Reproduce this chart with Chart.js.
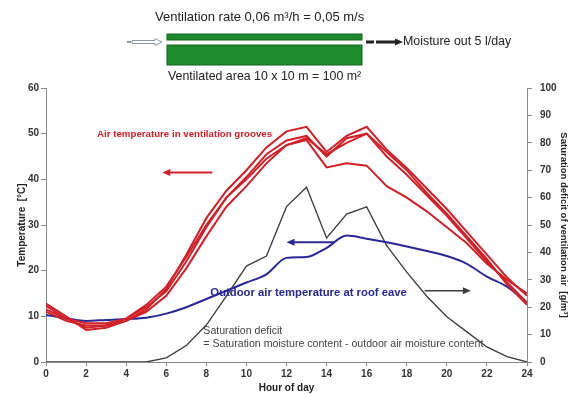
<!DOCTYPE html>
<html>
<head>
<meta charset="utf-8">
<script src="https://cdn.jsdelivr.net/npm/chart.js@4.4.1/dist/chart.umd.min.js"></script>
<style>
  html, body { margin: 0; padding: 0; background: #fff; }
  #wrap { position: relative; width: 571px; height: 394px; }
</style>
</head>
<body>
<div id="wrap"><canvas id="chart" width="571" height="394"></canvas></div>
<script>
// hours of the day
const hours = [0, 1, 2, 3, 4, 5, 6, 7, 8, 9, 10, 11, 12, 13, 14, 15, 16, 17, 18, 19, 20, 21, 22, 23, 24];

// air temperature in ventilation grooves (4 measured grooves), °C
const groove1 = [12.8, 10, 7, 7.5, 9, 11.5, 16, 23.5, 31.5, 37.5, 42, 47, 50.5, 51.5, 46, 49.5, 51.5, 46.5, 42.5, 38, 33.5, 28.5, 23.5, 18.5, 14.5];
const groove2 = [12.3, 9.5, 7.5, 8, 9.5, 12, 15.5, 22, 29.5, 36, 40.5, 45.5, 48.5, 49.5, 45, 49, 50, 46, 42, 37, 32.5, 27.5, 22.5, 17, 12.5];
const groove3 = [11.5, 9.5, 8.5, 8.5, 9.5, 12.5, 16.5, 23, 30, 36, 40, 44.5, 47.5, 49, 45.5, 48, 50, 45, 41, 36.5, 32, 27, 22, 17.5, 13];
const groove4 = [11, 9, 8, 8, 9, 11, 14.5, 20.5, 27.5, 34, 38.5, 43.5, 47.5, 48.6, 42.6, 43.5, 43, 38.5, 36, 33, 29.5, 26, 21.5, 18, 15];

// outdoor air temperature at roof eave, °C
const outdoor = [10.3, 9.6, 9.0, 9.2, 9.4, 9.7, 10.6, 12, 13.8, 15.6, 17.4, 19.2, 22.8, 23, 25, 27.7, 27, 26.2, 25.3, 24.3, 23.2, 21.5, 18.7, 16.5, 13];

// saturation deficit, g/m³ (right axis)
const deficit = [0, 0, 0, 0, 0, 0, 1.5, 6, 13.5, 24, 35, 38.7, 56.7, 63.8, 45.3, 54, 56.6, 42.5, 32.8, 24, 16.5, 11, 5.5, 2, 0];

const xTicks = [0, 2, 4, 6, 8, 10, 12, 14, 16, 18, 20, 22, 24];

const RED = "rgb(210,32,40)";
const BLUE = "rgb(40,40,150)";
const GREY = "rgb(60,60,60)";
const FONT = "'Liberation Sans', Arial, sans-serif";

function toPts(ys) {
  return hours.map((h, i) => ({ x: h, y: ys[i] }));
}

function redSet(ys) {
  return { data: toPts(ys), borderColor: RED, borderWidth: 2, pointRadius: 0, tension: 0, yAxisID: "y" };
}

function arrow(ctx, x1, y, x2, color, w) {
  const dir = x2 > x1 ? 1 : -1;
  ctx.save();
  ctx.strokeStyle = color;
  ctx.fillStyle = color;
  ctx.lineWidth = w;
  ctx.beginPath();
  ctx.moveTo(x1, y);
  ctx.lineTo(x2 - dir * 6, y);
  ctx.stroke();
  ctx.beginPath();
  ctx.moveTo(x2, y);
  ctx.lineTo(x2 - dir * 8, y - 3.5);
  ctx.lineTo(x2 - dir * 8, y + 3.5);
  ctx.closePath();
  ctx.fill();
  ctx.restore();
}

// labels, arrows and the little ventilation sketch above the plot
const extras = {
  id: "extras",
  afterDraw(chart) {
    const ctx = chart.ctx;
    const x = chart.scales.x, y = chart.scales.y;

    ctx.save();
    ctx.textBaseline = "middle";
    ctx.textAlign = "left";

    ctx.font = "bold 9.7px " + FONT;
    ctx.fillStyle = RED;
    ctx.fillText("Air temperature in ventilation grooves", x.getPixelForValue(2.55), y.getPixelForValue(49.9));
    arrow(ctx, x.getPixelForValue(8.3), y.getPixelForValue(41.5), x.getPixelForValue(5.8), RED, 2);

    ctx.font = "bold 11.3px " + FONT;
    ctx.fillStyle = BLUE;
    ctx.fillText("Outdoor air temperature at roof eave", x.getPixelForValue(8.2), y.getPixelForValue(15.2));
    arrow(ctx, x.getPixelForValue(14.4), y.getPixelForValue(26.2), x.getPixelForValue(12.0), BLUE, 2);

    arrow(ctx, x.getPixelForValue(18.9), y.getPixelForValue(15.6), x.getPixelForValue(21.2), GREY, 1.5);

    ctx.font = "10.6px " + FONT;
    ctx.fillStyle = "#444";
    ctx.fillText("Saturation deficit", x.getPixelForValue(7.85), y.getPixelForValue(6.8));
    ctx.fillText("= Saturation moisture content - outdoor air moisture content", x.getPixelForValue(7.85), y.getPixelForValue(3.9));

    // top sketch
    ctx.font = "13px " + FONT;
    ctx.fillStyle = "#222";
    ctx.fillText("Ventilation rate 0,06 m\u00b3/h = 0,05 m/s", 155, 17);
    ctx.font = "12.4px " + FONT;
    ctx.fillText("Moisture out 5 l/day", 403, 42);
    ctx.fillText("Ventilated area 10 x 10 m = 100 m\u00b2", 168, 77);

    ctx.fillStyle = "#1f8a2e";
    ctx.strokeStyle = "#16611f";
    ctx.lineWidth = 1;
    ctx.fillRect(167, 34, 195, 6);
    ctx.strokeRect(167, 34, 195, 6);
    ctx.fillRect(167, 45, 195, 20);
    ctx.strokeRect(167, 45, 195, 20);

    // hollow inlet arrow
    ctx.strokeStyle = "#8a9aa8";
    ctx.fillStyle = "#fff";
    ctx.lineWidth = 1;
    ctx.beginPath();
    ctx.moveTo(132, 40.5);
    ctx.lineTo(155, 40.5);
    ctx.lineTo(155, 38.5);
    ctx.lineTo(162, 42);
    ctx.lineTo(155, 45.5);
    ctx.lineTo(155, 43.5);
    ctx.lineTo(132, 43.5);
    ctx.closePath();
    ctx.fill();
    ctx.stroke();
    ctx.fillStyle = "#8a9aa8";
    ctx.fillRect(127, 41, 4, 2);

    // outlet arrow
    ctx.fillStyle = "#222";
    ctx.fillRect(366, 40.5, 8, 3);
    arrow(ctx, 376, 42, 403, "#222", 3);
    ctx.restore();
  }
};

new Chart(document.getElementById("chart"), {
  type: "line",
  data: {
    datasets: [
      redSet(groove1),
      redSet(groove2),
      redSet(groove3),
      redSet(groove4),
      { data: toPts(outdoor), borderColor: BLUE, borderWidth: 2, pointRadius: 0, tension: 0.35, cubicInterpolationMode: "monotone", yAxisID: "y" },
      { data: toPts(deficit), borderColor: GREY, borderWidth: 1.3, pointRadius: 0, tension: 0, yAxisID: "y2" }
    ]
  },
  options: {
    responsive: false,
    animation: false,
    events: [],
    layout: { padding: { top: 88, left: 16, right: 2, bottom: 0 } },
    plugins: { legend: { display: false }, tooltip: { enabled: false } },
    scales: {
      x: {
        type: "linear",
        min: 0, max: 24,
        afterBuildTicks: (s) => { s.ticks = xTicks.map(v => ({ value: v })); },
        grid: { display: true, drawOnChartArea: false, color: "#888", tickLength: 4 },
        border: { color: "#888" },
        ticks: { color: "#333", font: { family: FONT, size: 10, weight: "bold" }, padding: 2 },
        title: { display: true, text: "Hour of day", color: "#222", font: { family: FONT, size: 10, weight: "bold" }, padding: { top: 0, bottom: 0 } }
      },
      y: {
        position: "left",
        min: 0, max: 60,
        ticks: { stepSize: 10, color: "#333", font: { family: FONT, size: 10, weight: "bold" }, padding: 2 },
        grid: { display: true, drawOnChartArea: false, color: "#888", tickLength: 5 },
        border: { color: "#888" },
        title: { display: true, text: "Temperature  [\u00b0C]", color: "#222", font: { family: FONT, size: 10, weight: "bold" }, padding: 0 },
        afterFit: (s) => { s.width = 30; }
      },
      y2: {
        position: "right",
        min: 0, max: 100,
        ticks: { stepSize: 10, color: "#333", font: { family: FONT, size: 10, weight: "bold" }, padding: 8 },
        grid: { display: true, drawOnChartArea: false, color: "#888", tickLength: 5 },
        border: { color: "#888" },
        title: { display: true, text: "Saturation deficit of ventilation air  [g/m\u00b3]", color: "#222", font: { family: FONT, size: 9.5, weight: "bold" }, padding: 0 },
        afterFit: (s) => { s.width = 42; }
      }
    }
  },
  plugins: [extras]
});
</script>
</body>
</html>
